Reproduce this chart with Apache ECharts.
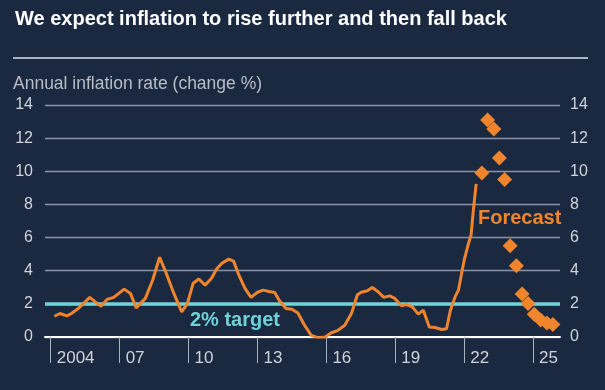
<!DOCTYPE html>
<html>
<head>
<meta charset="utf-8">
<script src="https://cdn.jsdelivr.net/npm/echarts@6/dist/echarts.min.js"></script>
<style>
html,body{margin:0;padding:0;background:#1a2840;}
#chart{width:605px;height:390px;}
</style>
</head>
<body>
<div id="chart"></div>
<script>
// Observed inflation: [decimal year, % change]
const historyYears = [2004.16,2004.4,2004.7,2004.9,2005.2,2005.7,2005.94,2006.19,2006.45,2006.74,2007.2,2007.47,2007.72,2008.12,2008.44,2008.74,2009.03,2009.36,2009.7,2009.95,2010.2,2010.45,2010.72,2011.0,2011.22,2011.45,2011.75,2011.96,2012.2,2012.45,2012.72,2013.0,2013.25,2013.5,2013.75,2013.95,2014.24,2014.5,2014.76,2015.05,2015.34,2015.63,2015.95,2016.2,2016.5,2016.8,2017.09,2017.35,2017.52,2017.78,2018.0,2018.25,2018.5,2018.76,2018.98,2019.27,2019.49,2019.74,2020.0,2020.22,2020.48,2020.73,2021.02,2021.23,2021.4,2021.6,2021.75,2021.86,2022.0,2022.19,2022.3,2022.4,2022.52];
const historyValues = [1.25,1.42,1.27,1.42,1.72,2.39,2.12,1.86,2.27,2.39,2.89,2.63,1.76,2.33,3.44,4.81,3.84,2.63,1.52,2.02,3.24,3.5,3.13,3.54,4.1,4.45,4.7,4.58,3.7,2.95,2.39,2.7,2.83,2.75,2.69,2.2,1.72,1.68,1.45,0.71,0.1,-0.04,0.0,0.24,0.4,0.71,1.42,2.55,2.7,2.79,2.99,2.73,2.39,2.48,2.33,1.88,1.96,1.82,1.38,1.62,0.61,0.57,0.45,0.5,1.62,2.42,2.83,3.64,4.65,5.66,6.16,7.68,9.24];
// Forecast (quarterly diamonds)
const forecastYears = [2022.77,2023.02,2023.29,2023.53,2023.76,2024.0,2024.27,2024.52,2024.78,2025.05,2025.33,2025.6,2025.86];
const forecastValues = [9.9,13.1,12.55,10.8,9.5,5.5,4.3,2.6,2.02,1.38,1.03,0.85,0.76];
// Axis ticks
const xTickYears = [2004,2007,2010,2013,2016,2019,2022,2025];
const xTickLabels = ['2004','07','10','13','16','19','22','25'];
const targetValue = 2;

const histData = historyYears.map((x,i)=>[x,historyValues[i]]);
const fcData = forecastYears.map((x,i)=>[x,forecastValues[i]]);
const labelMap = {};
xTickYears.forEach((y,i)=>labelMap[y]=xTickLabels[i]);

const FONT = '"Liberation Sans", Arial, sans-serif';
const axisTextColor = '#cfd4dc';
const chart = echarts.init(document.getElementById('chart'));
chart.setOption({
  backgroundColor:'#1a2840',
  animation:false,
  grid:{left:45,right:45,top:105,bottom:53},
  xAxis:{
    type:'value', min:2003.75, max:2026.17,
    splitLine:{show:false},
    axisLine:{show:true,lineStyle:{color:'#ffffff',width:2}},
    axisTick:{show:true,customValues:xTickYears,length:26,lineStyle:{color:'#aab2bf',width:1}},
    axisLabel:{show:true,customValues:xTickYears,formatter:v=>labelMap[v]||'',align:'left',padding:[0,0,0,6],margin:13,
      color:axisTextColor,fontFamily:FONT,fontSize:17}
  },
  yAxis:[{
    type:'value',min:0,max:14,interval:2,position:'left',
    axisLine:{show:false},axisTick:{show:false},
    axisLabel:{color:axisTextColor,fontFamily:FONT,fontSize:16,margin:12},
    splitLine:{show:true,lineStyle:{color:'#8a94a6',width:1.3}}
  },{
    type:'value',min:0,max:14,interval:2,position:'right',
    axisLine:{show:false},axisTick:{show:false},
    axisLabel:{color:axisTextColor,fontFamily:FONT,fontSize:16,margin:10},
    splitLine:{show:false}
  }],
  series:[{
    type:'line',data:histData,showSymbol:false,symbol:'none',
    lineStyle:{color:'#f0852d',width:3},z:3,
    markLine:{silent:true,symbol:'none',label:{show:false},
      lineStyle:{color:'#6fd2d8',width:3.5,type:'solid'},
      data:[{yAxis:targetValue}],z:2}
  },{
    type:'scatter',data:fcData,symbol:'diamond',symbolSize:15,
    itemStyle:{color:'#f0852d',opacity:1},z:4
  }],
  graphic:[
    {type:'text',left:15,top:9,style:{text:'We expect inflation to rise further and then fall back',fill:'#ffffff',font:'bold 20px '+FONT}},
    {type:'line',shape:{x1:13,y1:58,x2:588,y2:58},style:{stroke:'#aab3c2',lineWidth:2}},
    {type:'text',left:13,top:75,style:{text:'Annual inflation rate (change %)',fill:'#b8bec8',font:'17.5px '+FONT}},
    {type:'text',left:190,top:310,style:{text:'2% target',fill:'#6fd2d8',font:'bold 20px '+FONT}},
    {type:'text',left:478,top:208,style:{text:'Forecast',fill:'#f0852d',font:'bold 20px '+FONT}}
  ]
});
</script>
</body>
</html>
